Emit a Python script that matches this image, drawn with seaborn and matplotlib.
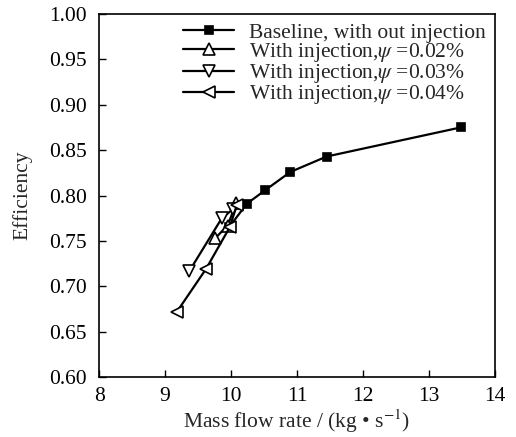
import matplotlib
matplotlib.use("Agg")
import matplotlib.pyplot as plt
import seaborn as sns
import pandas as pd
from matplotlib.ticker import FormatStrFormatter

sns.set_theme(style="ticks")
plt.rcParams["font.family"] = ["Liberation Serif", "DejaVu Serif"]
plt.rcParams["mathtext.fontset"] = "stix"

# Measured operating points: mass flow rate (kg/s) and efficiency
base_flow = [9.97, 10.24, 10.52, 10.90, 11.45, 13.48]
base_eff = [0.765, 0.791, 0.806, 0.826, 0.843, 0.875]

inj02_flow = [9.76, 9.95, 10.08]
inj02_eff = [0.753, 0.767, 0.792]

inj03_flow = [9.37, 9.86, 10.03]
inj03_eff = [0.717, 0.775, 0.785]

inj04_flow = [9.18, 9.62, 9.98, 10.09]
inj04_eff = [0.672, 0.719, 0.765, 0.790]

series = [
    ("Baseline, with out injection", base_flow, base_eff, "s", "black", 6),
    (r"With injection,$\psi$ =0.02%", inj02_flow, inj02_eff, "^", "white", 9),
    (r"With injection,$\psi$ =0.03%", inj03_flow, inj03_eff, "v", "white", 9),
    (r"With injection,$\psi$ =0.04%", inj04_flow, inj04_eff, "<", "white", 9),
]

fs = 15.5

fig = plt.figure(figsize=(5.16, 4.37), dpi=100)
ax = fig.add_axes([0.192, 0.137, 0.767, 0.831])

for label, xs, ys, mk, fc, ms in series:
    df = pd.DataFrame({"flow": xs, "eff": ys})
    sns.lineplot(data=df, x="flow", y="eff", ax=ax, sort=False, color="black",
                 linewidth=1.6, marker=mk, markersize=ms, markerfacecolor=fc,
                 markeredgecolor="black", markeredgewidth=1.2, label=label)

ax.set_xlim(8, 14)
ax.set_ylim(0.60, 1.00)
ax.set_xticks(range(8, 15))
ax.set_yticks([0.60, 0.65, 0.70, 0.75, 0.80, 0.85, 0.90, 0.95, 1.00])
ax.yaxis.set_major_formatter(FormatStrFormatter("%.2f"))
ax.tick_params(direction="in", length=5, width=1, labelsize=fs, colors="black",
               top=False, right=False)
ax.tick_params(axis="y", pad=9)
ax.tick_params(axis="x", pad=7)
for sp in ax.spines.values():
    sp.set_color("black")
    sp.set_linewidth(1.2)

ax.set_xlabel(r"Mass flow rate / (kg • s$^{-1}$)", fontsize=fs, labelpad=1)
ax.set_ylabel("Efficiency", fontsize=fs, labelpad=12)

leg = ax.legend(loc="upper right", frameon=False, fontsize=fs, handlelength=2.4,
                handletextpad=0.7, labelspacing=-0.08, borderaxespad=0.2,
                borderpad=0.2)

fig.savefig("out.png", dpi=100)
